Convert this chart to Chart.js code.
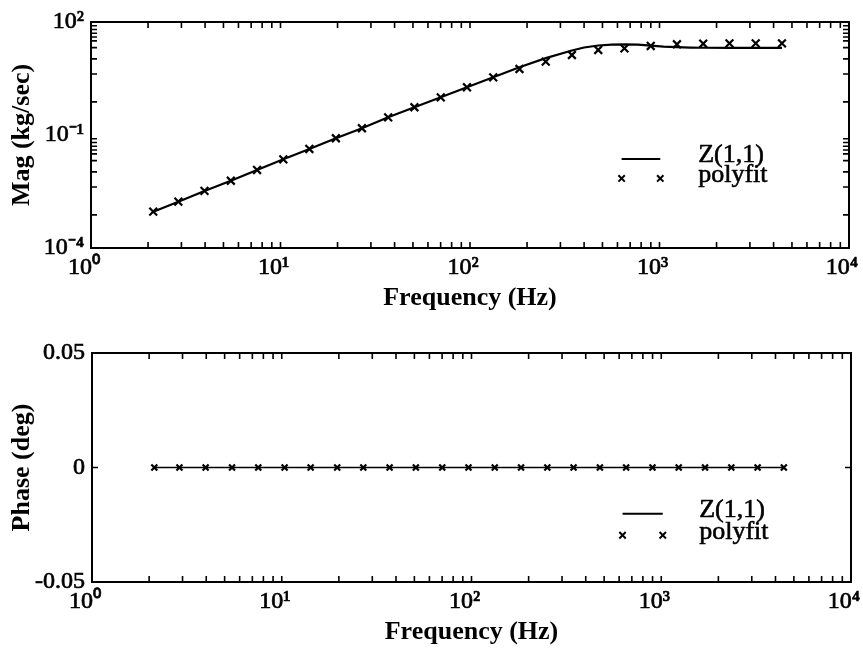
<!DOCTYPE html>
<html><head><meta charset="utf-8">
<script src="https://cdn.jsdelivr.net/npm/chart.js@4.4.0/dist/chart.umd.min.js"></script>
<style>
html,body{margin:0;padding:0;background:#fff;}
#wrap{position:relative;width:863px;height:652px;overflow:hidden;background:#fff;}
canvas{position:absolute;left:0;}
#c1{top:0;} #c2{top:315px;}
</style></head><body>
<div id="wrap"><canvas id="c1" width="863" height="315"></canvas><canvas id="c2" width="863" height="337"></canvas></div>
<script>
// ---- data ----
const lineFreq = [2.13, 2.89, 3.97, 5.47, 7.52, 10.35, 14.2, 19.6, 26.9, 37.0, 50.9, 70.1, 96.4, 132.6, 182.4, 251, 345, 400, 475, 560, 653, 770, 899, 1050, 1236, 1450, 1701, 2340, 3219, 4428];
const lineMag = [9.2e-4, 1.70e-3, 3.27e-3, 6.1e-3, 1.18e-2, 2.26e-2, 4.26e-2, 8.2e-2, 0.151, 0.295, 0.545, 1.00, 1.85, 3.40, 6.3, 11.0, 17.5, 21.0, 23.8, 25.2, 25.6, 25.0, 23.6, 22.3, 21.4, 20.9, 20.7, 20.6, 20.6, 20.6];
const linePhase = [0,0,0,0,0,0,0,0,0,0,0,0,0,0,0,0,0,0,0,0,0,0,0,0,0,0,0,0,0,0];
const fitFreq = [2.13, 2.89, 3.97, 5.47, 7.52, 10.35, 14.2, 19.6, 26.9, 37.0, 50.9, 70.1, 96.4, 132.6, 182.4, 251, 345, 475, 653, 899, 1236, 1701, 2340, 3219, 4428];
const fitMag = [9.2e-4, 1.70e-3, 3.27e-3, 6.1e-3, 1.18e-2, 2.26e-2, 4.26e-2, 8.2e-2, 0.151, 0.295, 0.545, 1.00, 1.85, 3.40, 5.65, 8.83, 13.3, 18.1, 20.0, 23.1, 25.6, 26.5, 27.2, 27.2, 27.2];
const fitPhase = [0,0,0,0,0,0,0,0,0,0,0,0,0,0,0,0,0,0,0,0,0,0,0,0,0];

const seriesNames = ['Z(1,1)', 'polyfit'];
const xTitle = 'Frequency (Hz)';
const magTitle = 'Mag (kg/sec)';
const phaseTitle = 'Phase (deg)';

const xMajor = [1, 10, 100, 1000, 10000];
const xLabels = ['10\u2070', '10\u00B9', '10\u00B2', '10\u00B3', '10\u2074'];
const xMinor = [2,3,4,5,6,7,8,9,10,20,30,40,50,60,70,80,90,100,200,300,400,500,600,700,800,900,1000,2000,3000,4000,5000,6000,7000,8000,9000];
const magMajor = [1e-4, 1e-1, 1e2];
const magLabels = ['10\u207B\u2074', '10\u207B\u00B9', '10\u00B2'];
const magMinor = [7.59e-4, 4.17e-3, 1.047e-2, 2.09e-2, 3.16e-2, 3.98e-2, 5.01e-2, 6.31e-2, 7.94e-2, 0.759, 4.17, 10.47, 20.9, 31.6, 39.8, 50.1, 63.1, 79.4];
const phaseMajor = [-0.05, 0, 0.05];
const phaseLabels = ['-0.05', '0', '0.05'];
const phaseMinor = [0];

// ---- drawing ----
Chart.defaults.font.family = "'Liberation Serif', 'Times New Roman', serif";
Chart.defaults.color = '#000';

function pts(xs, ys){ return xs.map((x,i)=>({x:x, y:ys[i]})); }

function framePlugin(xt, yt){
  return {
    id:'frame',
    afterDraw(chart){
      const ctx = chart.ctx, a = chart.chartArea, sx = chart.scales.x, sy = chart.scales.y;
      ctx.save();
      ctx.strokeStyle = '#000';
      ctx.lineWidth = 1.6;
      const L = 6;
      ctx.beginPath();
      xt.forEach(v => { const p = sx.getPixelForValue(v);
        ctx.moveTo(p, a.bottom); ctx.lineTo(p, a.bottom - L);
        ctx.moveTo(p, a.top); ctx.lineTo(p, a.top + L); });
      yt.forEach(v => { const p = sy.getPixelForValue(v);
        ctx.moveTo(a.left, p); ctx.lineTo(a.left + L, p);
        ctx.moveTo(a.right, p); ctx.lineTo(a.right - L, p); });
      ctx.stroke();
      ctx.lineWidth = 2;
      ctx.strokeRect(a.left, a.top, a.right - a.left, a.bottom - a.top);
      ctx.restore();
    }
  };
}

function legendPlugin(fx0, fx1, ftx, fy1, gap){
  return {
    id:'leg',
    afterDraw(chart){
      const ctx = chart.ctx, a = chart.chartArea;
      const w = a.right - a.left, h = a.bottom - a.top;
      const x0 = a.left + fx0*w, x1 = a.left + fx1*w, tx = a.left + ftx*w;
      const b1 = a.top + fy1*h, b2 = b1 + gap;
      ctx.save();
      ctx.strokeStyle = '#000'; ctx.fillStyle = '#000';
      ctx.lineWidth = 2;
      ctx.beginPath(); ctx.moveTo(x0, b1 - 3); ctx.lineTo(x1, b1 - 3); ctx.stroke();
      const r = 3.2, my = b2 - 3.5;
      ctx.lineWidth = 2;
      [x0, x1].forEach(mx => {
        ctx.beginPath();
        ctx.moveTo(mx - r, my - r); ctx.lineTo(mx + r, my + r);
        ctx.moveTo(mx - r, my + r); ctx.lineTo(mx + r, my - r);
        ctx.stroke();
      });
      ctx.font = "26px 'Liberation Serif', serif";
      ctx.textBaseline = 'alphabetic'; ctx.textAlign = 'left';
      ctx.lineWidth = 0.6; ctx.lineJoin = 'round';
      [[seriesNames[0], b1], [seriesNames[1], b2]].forEach(([t, b]) => {
        ctx.fillText(t, tx, b); ctx.strokeText(t, tx, b);
      });
      ctx.restore();
    }
  };
}

const tickFont = {size:24};
function xScale(){
  return {
    type:'logarithmic', min:1, max:10000,
    afterBuildTicks: s => { s.ticks = xMajor.map(v=>({value:v})); },
    ticks:{ callback:(v,i)=>xLabels[i], autoSkip:false, maxRotation:0, minRotation:0, padding:5, labelOffset:-7, font:tickFont, color:'#000', textStrokeColor:'#000', textStrokeWidth:0.7 },
    grid:{ display:false, drawTicks:false }, border:{ display:false },
    title:{ display:true, text:xTitle, font:{size:26, weight:'bold', lineHeight:1}, padding:{top:0,bottom:0}, color:'#000' },
    afterFit: s => { s.height = 63; s.paddingLeft = 0; s.paddingRight = 0; }
  };
}

const common = {
  responsive:false, animation:false, devicePixelRatio:1,
  plugins:{ legend:{display:false}, tooltip:{enabled:false} }
};

new Chart(document.getElementById('c1'), {
  type:'scatter',
  data:{ datasets:[
    { label:seriesNames[0], data:pts(lineFreq, lineMag), showLine:true, borderColor:'#000', borderWidth:2.2, pointRadius:0, tension:0 },
    { label:seriesNames[1], data:pts(fitFreq, fitMag), showLine:false, pointStyle:'crossRot', pointRadius:5.5, borderColor:'#000', backgroundColor:'#000', borderWidth:2.2 }
  ]},
  options: Object.assign({}, common, {
    layout:{ padding:{ top:22, bottom:4, left:0, right:14 } },
    scales:{
      x: xScale(),
      y: {
        type:'logarithmic', min:1e-4, max:100,
        afterBuildTicks: s => { s.ticks = magMajor.map(v=>({value:v})); },
        ticks:{ callback:(v,i)=>magLabels[i], autoSkip:false, padding:7, font:tickFont, color:'#000', textStrokeColor:'#000', textStrokeWidth:0.7 },
        grid:{ display:false, drawTicks:false }, border:{ display:false },
        title:{ display:true, text:magTitle, font:{size:26, weight:'bold', lineHeight:1}, padding:{top:9,bottom:0}, color:'#000' },
        afterFit: s => { s.width = 91; s.paddingTop = 0; s.paddingBottom = 0; }
      }
    }
  }),
  plugins:[ framePlugin(xMinor, magMinor), legendPlugin(0.700, 0.751, 0.801, 0.619, 20) ]
});

new Chart(document.getElementById('c2'), {
  type:'scatter',
  data:{ datasets:[
    { label:seriesNames[0], data:pts(lineFreq, linePhase), showLine:true, borderColor:'#000', borderWidth:1.6, pointRadius:0, tension:0 },
    { label:seriesNames[1], data:pts(fitFreq, fitPhase), showLine:false, pointStyle:'crossRot', pointRadius:4.2, borderColor:'#000', backgroundColor:'#000', borderWidth:2.2 }
  ]},
  options: Object.assign({}, common, {
    layout:{ padding:{ top:38, bottom:7, left:0, right:12 } },
    scales:{
      x: xScale(),
      y: {
        type:'linear', min:-0.05, max:0.05,
        afterBuildTicks: s => { s.ticks = phaseMajor.map(v=>({value:v})); },
        ticks:{ callback:(v,i)=>phaseLabels[i], autoSkip:false, padding:7, font:tickFont, color:'#000', textStrokeColor:'#000', textStrokeWidth:0.7 },
        grid:{ display:false, drawTicks:false }, border:{ display:false },
        title:{ display:true, text:phaseTitle, font:{size:26, weight:'bold', lineHeight:1}, padding:{top:9,bottom:0}, color:'#000' },
        afterFit: s => { s.width = 92; s.paddingTop = 0; s.paddingBottom = 0; }
      }
    }
  }),
  plugins:[ framePlugin(xMinor, phaseMinor), legendPlugin(0.699, 0.752, 0.800, 0.715, 22) ]
});
</script>
</body></html>
